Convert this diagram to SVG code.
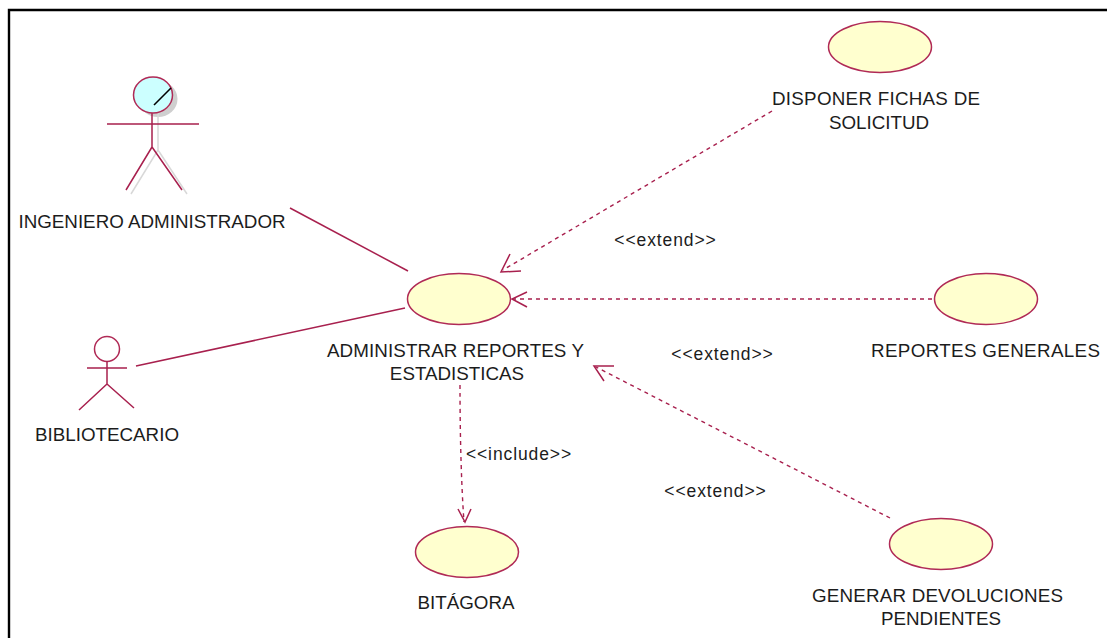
<svg xmlns="http://www.w3.org/2000/svg" width="1107" height="638" viewBox="0 0 1107 638">
<style>
text{font-family:"Liberation Sans",Arial,sans-serif;font-size:18.8px;fill:#1c1c1c;text-anchor:middle}
.s{font-size:17.5px;letter-spacing:.9px}
.uc{fill:#ffffcf;stroke:#b02a56;stroke-width:1.5}
.ln{fill:none;stroke:#a8204e;stroke-width:1.5}
.da{fill:none;stroke:#a8204e;stroke-width:1.4;stroke-dasharray:4 4}
.ar{fill:none;stroke:#a8204e;stroke-width:1.5}
.sh{fill:none;stroke:#d8d8d8;stroke-width:1.5}
</style>
<rect width="1107" height="638" fill="#fff"/>
<path id="frame" d="M9 638V10H1107" fill="none" stroke="#000" stroke-width="2.4"/>
<g id="connectors">
<path class="ln" d="M290 208L408 271"/>
<path class="ln" d="M136 366L405 308"/>
<path class="da" d="M772 111L503 270"/>
<path class="ar" d="M510 254L501 272L521 271"/>
<path class="da" d="M932 299H513"/>
<path class="ar" d="M527 292L512 299L527 307"/>
<path class="da" d="M890 518L596 367"/>
<path class="ar" d="M614 366L594 366L604 381"/>
<path class="da" d="M460 385C460 430 461 480 464 522"/>
<path class="ar" d="M458 509L465 522L471 509"/>
</g>
<g id="actor-ingeniero">
<ellipse cx="158" cy="99" rx="19.500" ry="18" fill="#cfcfcf"/>
<path class="sh" d="M158 113V150L131 194M158 150L187 194"/>
<path class="ln" d="M152 113V147M107 124H199M152 147L126 190M152 147L182 190"/>
<ellipse cx="153" cy="95" rx="19.500" ry="18" fill="#ccffff" stroke="#b02a56" stroke-width="1.500"/>
<path d="M154 105L171 88" stroke="#000" stroke-width="1.600" fill="none"/>
<text x="152" y="228">INGENIERO ADMINISTRADOR</text>
</g>
<g id="actor-bibliotecario">
<circle cx="107" cy="349" r="12.500" fill="#fff" stroke="#b02a56" stroke-width="1.500"/>
<path class="ln" d="M107 361V384M87 368H127M107 384L79 410M107 384L134 408"/>
<text x="107" y="441">BIBLIOTECARIO</text>
</g>
<g id="uc-administrar">
<ellipse class="uc" cx="459" cy="299" rx="51.500" ry="25.500"/>
<text x="455.500" y="357" textLength="257">ADMINISTRAR REPORTES Y</text>
<text x="457" y="380">ESTADISTICAS</text>
</g>
<g id="uc-disponer">
<ellipse class="uc" cx="880" cy="47" rx="51.500" ry="25.500"/>
<text x="876" y="105" textLength="208">DISPONER FICHAS DE</text>
<text x="879" y="129">SOLICITUD</text>
</g>
<g id="uc-reportes">
<ellipse class="uc" cx="986" cy="299" rx="51.500" ry="25.500"/>
<text x="985.500" y="357" textLength="229">REPORTES GENERALES</text>
</g>
<g id="uc-bitacora">
<ellipse class="uc" cx="467" cy="552" rx="51.500" ry="25.500"/>
<text x="466" y="609">BITÁGORA</text>
</g>
<g id="uc-generar">
<ellipse class="uc" cx="941" cy="544" rx="51.500" ry="25.500"/>
<text x="937.500" y="602" textLength="251">GENERAR DEVOLUCIONES</text>
<text x="941" y="625">PENDIENTES</text>
</g>
<g id="labels">
<text class="s" x="665.500" y="246">&lt;&lt;extend&gt;&gt;</text>
<text class="s" x="722.500" y="360">&lt;&lt;extend&gt;&gt;</text>
<text class="s" x="715.500" y="497">&lt;&lt;extend&gt;&gt;</text>
<text class="s" x="519" y="460">&lt;&lt;include&gt;&gt;</text>
</g>
</svg>
